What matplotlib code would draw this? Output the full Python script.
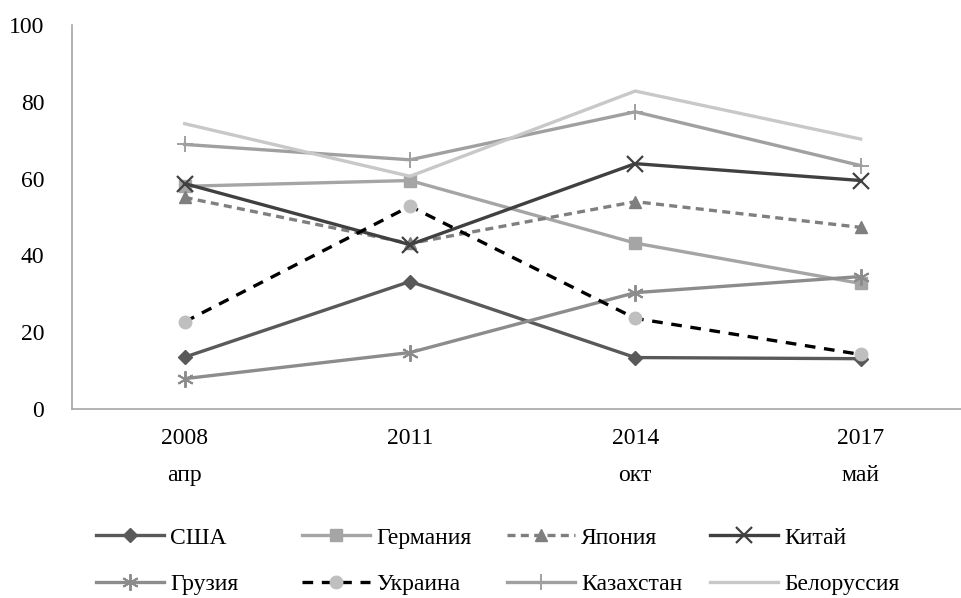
import matplotlib
matplotlib.use("Agg")
import matplotlib.pyplot as plt

plt.rcParams['font.family'] = ['Liberation Serif', 'DejaVu Serif']

periods = ["2008\nапр", "2011", "2014\nокт", "2017\nмай"]

usa = [13.5, 33.2, 13.4, 13.1]
germany = [58.0, 59.5, 43.2, 32.7]
japan = [55.1, 43.1, 54.0, 47.3]
china = [58.7, 42.8, 63.9, 59.5]
georgia = [7.9, 14.7, 30.3, 34.5]
ukraine = [22.7, 52.8, 23.6, 14.2]
kazakhstan = [68.9, 64.9, 77.4, 63.4]
belarus = [74.3, 60.6, 82.8, 70.3]

x = list(range(len(periods)))

fig = plt.figure(figsize=(9.62, 5.98), dpi=100)
ax = fig.add_axes([72 / 962, 1 - 409 / 598, 1 - 72 / 962, (409 - 25) / 598])

lw = 2.4
series = [
    ("США", usa, dict(color="#595959", marker="D", ms=7)),
    ("Германия", germany, dict(color="#A5A5A5", marker="s", ms=8)),
    ("Япония", japan, dict(color="#7F7F7F", marker="^", ms=9, ls=(0, (2.4, 1.6)))),
    ("Китай", china, dict(color="#404040", marker="x", ms=11, mew=1.6)),
    ("Грузия", georgia, dict(color="#8C8C8C", marker=(6, 2, 0), ms=12, mew=1.4)),
    ("Украина", ukraine, dict(color="black", marker="o", ms=9, mfc="#BFBFBF", mec="#BFBFBF",
                              ls=(0, (3.2, 2.6)))),
    ("Казахстан", kazakhstan, dict(color="#A0A0A0", marker="+", ms=12, mew=1.4)),
    ("Белоруссия", belarus, dict(color="#C8C8C8")),
]

handles = []
for name, vals, style in series:
    h, = ax.plot(x, vals, lw=lw, label=name, **style)
    handles.append(h)

fs = 17
ax.set_xlim(-0.5, 3.45)
ax.set_ylim(0, 100)
ax.set_yticks([0, 20, 40, 60, 80, 100])
ax.set_xticks(x)
ax.set_xticklabels(periods, linespacing=2.0)
ax.tick_params(axis="both", length=0, labelsize=fs)
ax.tick_params(axis="y", pad=20)
ax.tick_params(axis="x", pad=14)

for s in ["top", "right"]:
    ax.spines[s].set_visible(False)
for s in ["left", "bottom"]:
    ax.spines[s].set_color("#A6A6A6")
    ax.spines[s].set_linewidth(1.2)

# legend: four columns of two rows, like the Excel layout
col_x = [96, 302, 507, 710]
for i, cx in enumerate(col_x):
    leg = fig.legend([handles[i], handles[i + 4]],
                     [series[i][0], series[i + 4][0]],
                     loc="upper left", bbox_to_anchor=(cx / 962, 1 - 527 / 598),
                     frameon=False, fontsize=fs, handlelength=2.9, handletextpad=0.25,
                     borderpad=0, borderaxespad=0, labelspacing=1.05)

fig.savefig("out.png", dpi=100)
